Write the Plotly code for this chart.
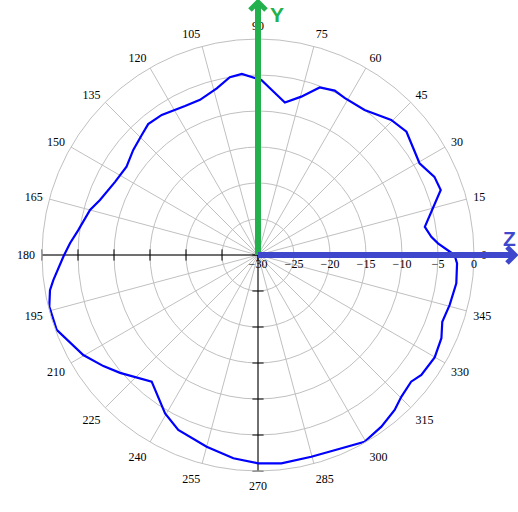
import plotly.graph_objects as go

# Radiation pattern (dB)
theta_deg = [0, 3.7, 6, 9.6, 19.6, 23.9, 29.6, 39.7, 45.4, 53.7, 61, 65, 69.8, 74.7, 80,
             88.9, 95.1, 99, 103.9, 110.5, 116.1, 124.5, 130, 134.1, 139.9, 146.1, 152.9,
             160.8, 165, 172.1, 176.4, 180.5, 187, 189.6, 193.9, 200.4, 209.8, 215.7, 220.5,
             230, 239.6, 245.5, 255, 263.1, 270, 276.4, 284.8, 292.4, 299.7, 305.7, 311.4,
             315.3, 320.4, 323.7, 329.9, 335.6, 340.1, 345.4, 351.9, 357.6, 360]
gain_db = [-2.7, -4.95, -5.8, -6.5, -3.06, -3.2, -4.2, -3.2, -3.65, -5.0, -5.1, -4.8, -5.2, -7.2, -8.5,
           -5.7, -4.76, -5.0, -6.15, -7.0, -6.96, -6.4, -6.27, -6.8, -7.35, -8.0, -7.7,
           -6.76, -5.85, -4.8, -3.84, -2.96, -1.36, -0.7, -0.14, -0.17, -2.04, -3.56, -4.8,
           -7.03, -4.5, -3.3, -2.44, -1.56, -1.07, -0.88, -1.02, -0.82, -0.14, -0.64, -1.3,
           -2.0, -2.4, -1.85, -1.64, -2.03, -2.78, -2.49, -2.18, -2.33, -2.7]

angle_ticks = list(range(0, 360, 15))
angle_labels = [str(a) for a in angle_ticks]
radial_ticks = [-30, -25, -20, -15, -10, -5, 0]
radial_labels = ["\u221230", "\u221225", "\u221220", "\u221215", "\u221210", "\u22125", "0"]

W, H = 518, 512
def px(x):
    return x / W
def py(y):
    return 1 - y / H

fig = go.Figure()

# black axis lines with ticks (180 deg and 270 deg)
fig.add_trace(go.Scatterpolar(
    theta=[180] * len(radial_ticks), r=radial_ticks, mode="lines+markers",
    line=dict(color="black", width=1),
    marker=dict(symbol="line-ns", size=8, line=dict(color="black", width=1)),
    hoverinfo="skip", showlegend=False))
fig.add_trace(go.Scatterpolar(
    theta=[270] * len(radial_ticks), r=radial_ticks, mode="lines+markers",
    line=dict(color="black", width=1),
    marker=dict(symbol="line-ew", size=8, line=dict(color="black", width=1)),
    hoverinfo="skip", showlegend=False))

fig.add_trace(go.Scatterpolar(
    theta=theta_deg, r=gain_db, mode="lines",
    line=dict(color="#0000ff", width=2.2),
    showlegend=False))

cx, cy = 258, 255
green = "#22b14c"
blue = "#3f48cc"
shapes = [
    dict(type="line", xref="paper", yref="paper", x0=px(cx), y0=py(cy), x1=px(cx), y1=py(3),
         line=dict(color=green, width=6)),
    dict(type="path", xref="paper", yref="paper",
         path=f"M {px(250)},{py(10)} L {px(258)},{py(2)} L {px(266)},{py(10)}",
         line=dict(color=green, width=5)),
    dict(type="line", xref="paper", yref="paper", x0=px(cx), y0=py(cy), x1=px(514), y1=py(cy),
         line=dict(color=blue, width=6)),
    dict(type="path", xref="paper", yref="paper",
         path=f"M {px(507)},{py(247)} L {px(515)},{py(255)} L {px(507)},{py(263)}",
         line=dict(color=blue, width=5)),
]

annotations = [
    dict(text="<b>Y</b>", x=px(277), y=py(14), xref="paper", yref="paper", showarrow=False,
         xanchor="center", yanchor="middle",
         font=dict(family="Liberation Sans, Arial", size=21, color=green)),
    dict(text="<b>Z</b>", x=px(509), y=py(238), xref="paper", yref="paper", showarrow=False,
         xanchor="center", yanchor="middle",
         font=dict(family="Liberation Sans, Arial", size=21, color=blue)),
]

fig.update_layout(
    width=W, height=H,
    margin=dict(l=0, r=0, t=0, b=0),
    paper_bgcolor="white",
    plot_bgcolor="white",
    font=dict(family="Liberation Serif, Times New Roman, serif", size=12, color="black"),
    shapes=shapes,
    annotations=annotations,
    polar=dict(
        domain=dict(x=[px(42), px(474)], y=[py(471), py(39)]),
        bgcolor="white",
        angularaxis=dict(
            direction="counterclockwise", rotation=0,
            tickmode="array", tickvals=angle_ticks, ticktext=angle_labels,
            showgrid=True, gridcolor="#c0c0c0", gridwidth=1,
            showline=True, linecolor="#c0c0c0", linewidth=1,
            ticks="outside", ticklen=4, tickcolor="rgba(0,0,0,0)",
            tickfont=dict(family="Liberation Serif, Times New Roman, serif", size=12, color="black"),
        ),
        radialaxis=dict(
            range=[-30, 0], angle=0,
            tickmode="array", tickvals=radial_ticks, ticktext=radial_labels,
            showgrid=True, gridcolor="#c0c0c0", gridwidth=1,
            showline=False, ticks="",
            tickfont=dict(family="Liberation Serif, Times New Roman, serif", size=12, color="black"),
        ),
    ),
)

fig.write_html("out.html", config={"displayModeBar": False},
               post_script="document.body.style.margin='0px';document.body.style.overflow='hidden';")
